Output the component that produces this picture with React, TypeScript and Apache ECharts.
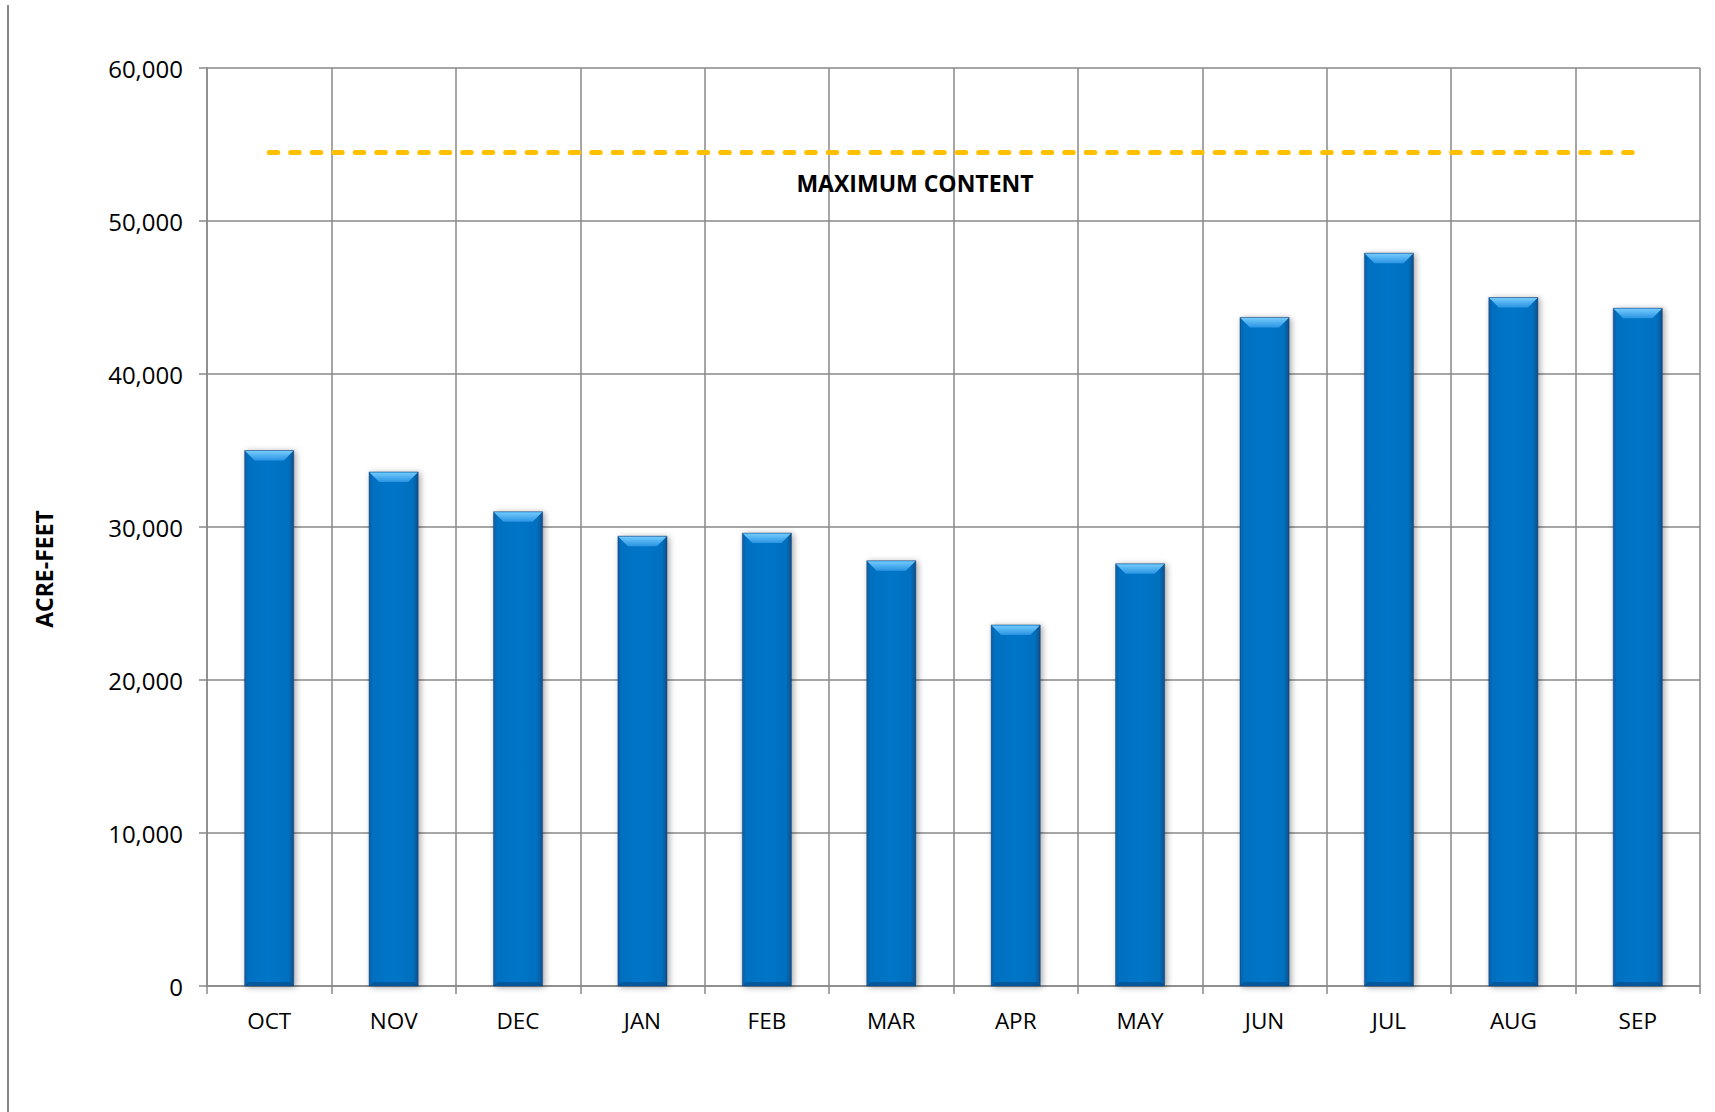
import React, { useEffect, useRef } from "react";
import * as echarts from "echarts";

const categories = ["OCT", "NOV", "DEC", "JAN", "FEB", "MAR", "APR", "MAY", "JUN", "JUL", "AUG", "SEP"];
const contentValues = [35000, 33600, 31000, 29400, 29600, 27800, 23600, 27600, 43700, 47900, 45000, 44300];
const MAX_CONTENT = 54500;
const yTicks = { min: 0, max: 60000, interval: 10000 };
const yAxisTitle = "ACRE-FEET";
const maxLabel = "MAXIMUM CONTENT";

const FONT = "'Open Sans', sans-serif";
const GRID_COLOR = "#888888";

export default function App() {
  const ref = useRef<HTMLDivElement>(null);

  useEffect(() => {
    document.body.style.margin = "0";
    const chart = echarts.init(ref.current!, null, { renderer: "svg" });

    const bodyFill = {
      type: "linear", x: 0, y: 0, x2: 1, y2: 0,
      colorStops: [
        { offset: 0, color: "#0a5a9e" },
        { offset: 0.07, color: "#0470c0" },
        { offset: 0.5, color: "#0476c9" },
        { offset: 0.9, color: "#046fbe" },
        { offset: 1, color: "#0b4c86" },
      ],
    };
    const bevelFill = {
      type: "linear", x: 0, y: 0, x2: 0, y2: 1,
      colorStops: [
        { offset: 0, color: "#74cbfc" },
        { offset: 1, color: "#2a94e3" },
      ],
    };

    chart.setOption({
      animation: false,
      backgroundColor: "#ffffff",
      grid: { left: 207, right: 15, top: 68, bottom: 126, containLabel: false },
      xAxis: {
        type: "category",
        data: categories,
        boundaryGap: true,
        axisLine: { show: true, lineStyle: { color: GRID_COLOR, width: 1.5 } },
        axisTick: { show: true, length: 8, alignWithLabel: false, lineStyle: { color: GRID_COLOR, width: 1.5 } },
        axisLabel: { color: "#000", fontFamily: FONT, fontSize: 22.5, margin: 23 },
        splitLine: { show: true, lineStyle: { color: GRID_COLOR, width: 1.5 } },
      },
      yAxis: {
        type: "value",
        min: yTicks.min,
        max: yTicks.max,
        interval: yTicks.interval,
        axisLine: { show: true, lineStyle: { color: GRID_COLOR, width: 1.5 } },
        axisTick: { show: true, length: 8, lineStyle: { color: GRID_COLOR, width: 1.5 } },
        axisLabel: {
          color: "#000",
          fontFamily: FONT,
          fontSize: 24,
          margin: 24,
          formatter: (v: number) => v.toLocaleString("en-US"),
        },
        splitLine: { show: true, lineStyle: { color: GRID_COLOR, width: 1.5 } },
      },
      series: [
        {
          type: "custom",
          data: contentValues.map((v, i) => [i, v]),
          encode: { x: 0, y: 1 },
          renderItem: (params: any, api: any) => {
            const top = api.coord([api.value(0), api.value(1)]);
            const base = api.coord([api.value(0), 0]);
            const bw = api.size([1, 0])[0] * 0.395;
            const left = top[0] - bw / 2;
            const y = top[1];
            const h = base[1] - y;
            const bev = 10;
            return {
              type: "group",
              children: [
                {
                  type: "rect",
                  shape: { x: left, y, width: bw, height: h },
                  style: {
                    fill: bodyFill,
                    stroke: "rgba(20,60,110,0.55)",
                    lineWidth: 0.8,
                    shadowBlur: 6,
                    shadowColor: "rgba(0,0,0,0.35)",
                    shadowOffsetX: 2,
                    shadowOffsetY: 1,
                  },
                },
                {
                  type: "polygon",
                  shape: {
                    points: [
                      [left + 0.5, y + 0.5],
                      [left + bw - 0.5, y + 0.5],
                      [left + bw - bev, y + bev],
                      [left + bev, y + bev],
                    ],
                  },
                  style: { fill: bevelFill },
                },
                {
                  type: "polygon",
                  shape: {
                    points: [
                      [left + 0.5, base[1]],
                      [left + bw - 0.5, base[1]],
                      [left + bw - 4, base[1] - 4],
                      [left + 4, base[1] - 4],
                    ],
                  },
                  style: { fill: "rgba(5,70,130,0.6)" },
                },
              ],
            };
          },
          z: 3,
        },
        {
          type: "line",
          data: [],
          markLine: {
            silent: true,
            symbol: "none",
            label: { show: false },
            lineStyle: { color: "#FFC000", width: 5, type: [8.5, 13], cap: "round" },
            data: [
              [
                { coord: [categories[0], MAX_CONTENT] },
                { coord: [categories[categories.length - 1], MAX_CONTENT] },
              ],
            ],
          },
          z: 4,
        },
      ],
      graphic: [
        {
          type: "line",
          shape: { x1: 8, y1: 5, x2: 8, y2: 1112 },
          style: { stroke: "#888888", lineWidth: 2 },
        },
        {
          type: "text",
          x: 915,
          y: 183,
          style: {
            text: maxLabel,
            fill: "#000",
            font: `bold 23px ${FONT}`,
            textAlign: "center",
            textVerticalAlign: "middle",
          },
          z: 10,
        },
        {
          type: "text",
          x: 44,
          y: 569,
          rotation: Math.PI / 2,
          style: {
            text: yAxisTitle,
            fill: "#000",
            font: `bold 23px ${FONT}`,
            textAlign: "center",
            textVerticalAlign: "middle",
          },
        },
      ],
    });

    return () => chart.dispose();
  }, []);

  return <div ref={ref} style={{ width: 1715, height: 1112 }} />;
}
